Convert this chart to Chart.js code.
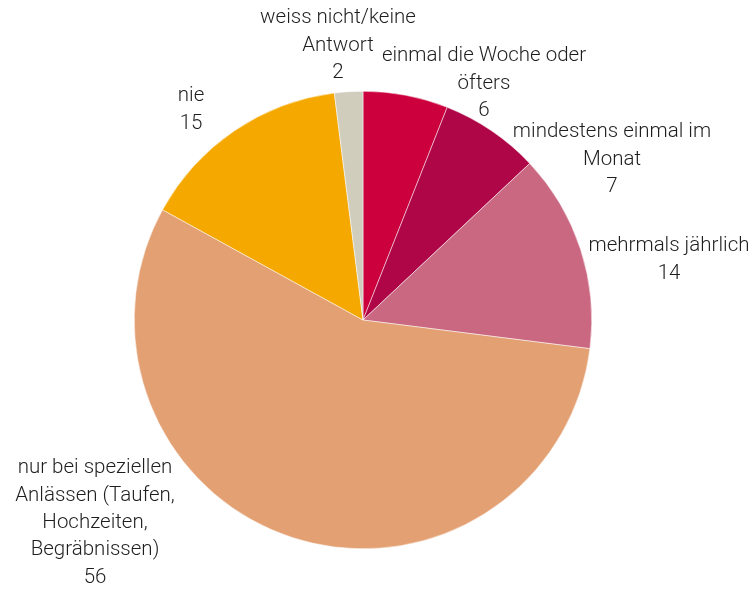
<!DOCTYPE html>
<html>
<head>
<meta charset="utf-8">
<script src="https://cdn.jsdelivr.net/npm/chart.js@4/dist/chart.umd.min.js"></script>
<style>
  html, body { margin: 0; padding: 0; background: #fff; }
  #wrap { width: 752px; height: 590px; position: relative; }
</style>
</head>
<body>
<div id="wrap"><canvas id="pieChart"></canvas></div>
<script>
// Daten (Uhrzeigersinn ab 12 Uhr)
const categories = [
    'einmal die Woche oder öfters',
    'mindestens einmal im Monat',
    'mehrmals jährlich',
    'nur bei speziellen Anlässen (Taufen, Hochzeiten, Begräbnissen)',
    'nie',
    'weiss nicht/keine Antwort'
];
const values = [6, 7, 14, 56, 15, 2];
const labelLines = [
    ['einmal die Woche oder', 'öfters'],
    ['mindestens einmal im', 'Monat'],
    ['mehrmals jährlich'],
    ['nur bei speziellen', 'Anlässen (Taufen,', 'Hochzeiten,', 'Begräbnissen)'],
    ['nie'],
    ['weiss nicht/keine', 'Antwort']
];
const colors = ['#CC003D', '#AF0648', '#CA6882', '#E3A073', '#F5A800', '#D0CDBD'];

// Position der ersten Textzeile relativ zum Kreismittelpunkt
const labelOffsets = [
    [121, -265],
    [249, -189],
    [306, -75],
    [-268, 147],
    [-172, -225],
    [-25, -303]
];

const FONT = '300 20.5px Roboto, "Open Sans", sans-serif';
const LINE_H = 27.4;

const outsideLabels = {
    id: 'outsideLabels',
    afterDraw(chart) {
        const ctx = chart.ctx;
        const meta = chart.getDatasetMeta(0);
        ctx.save();
        ctx.font = FONT;
        ctx.fillStyle = '#1e1e1e';
        ctx.textAlign = 'center';
        ctx.textBaseline = 'middle';
        meta.data.forEach((arc, i) => {
            const lines = labelLines[i].concat([String(values[i])]);
            const x = arc.x + labelOffsets[i][0];
            let y = arc.y + labelOffsets[i][1] + 1;
            lines.forEach(line => {
                ctx.fillText(line, x, y);
                y += LINE_H;
            });
        });
        ctx.restore();
    }
};

const ctx = document.getElementById('pieChart').getContext('2d');
new Chart(ctx, {
    type: 'pie',
    data: {
        labels: categories,
        datasets: [{
            data: values,
            backgroundColor: colors,
            borderColor: '#ffffff',
            borderWidth: 0.5
        }]
    },
    options: {
        responsive: true,
        maintainAspectRatio: false,
        animation: false,
        layout: {
            padding: { top: 91, bottom: 41, left: 134, right: 160 }
        },
        plugins: {
            legend: { display: false },
            tooltip: { enabled: false }
        }
    },
    plugins: [outsideLabels]
});
</script>
</body>
</html>
